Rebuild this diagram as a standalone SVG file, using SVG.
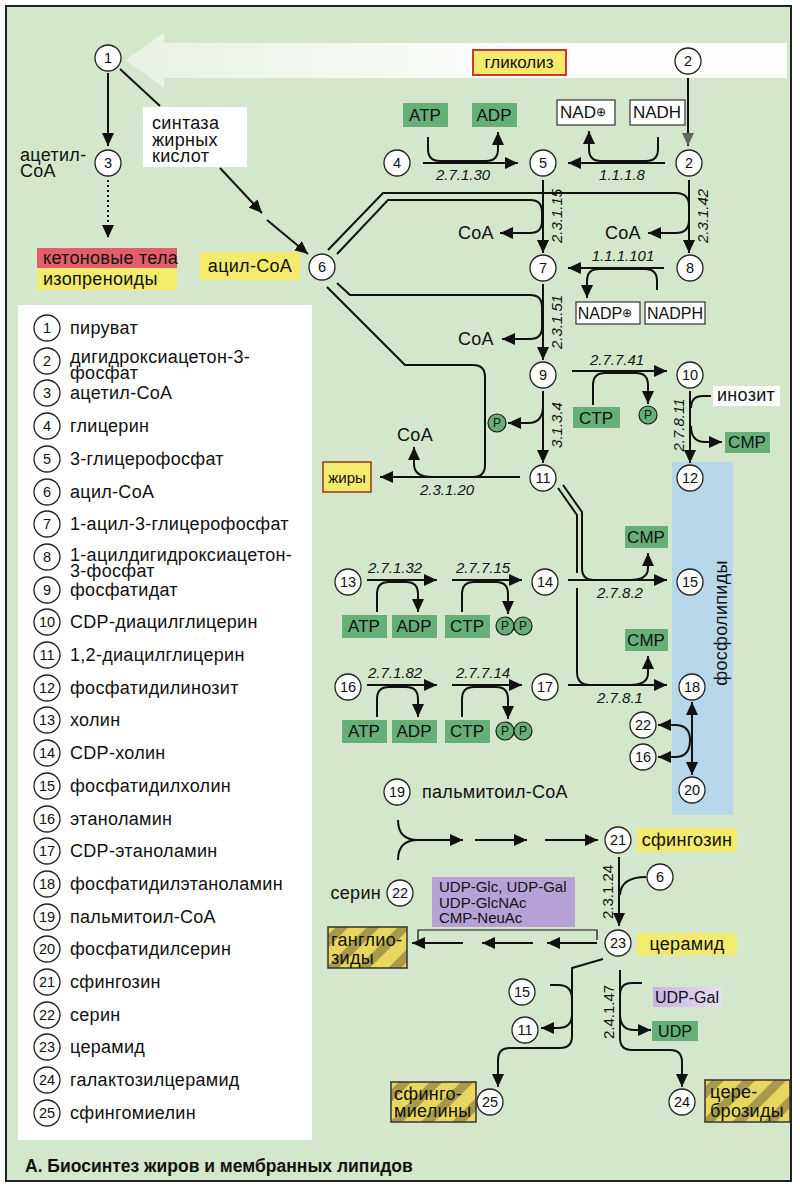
<svg xmlns="http://www.w3.org/2000/svg" width="800" height="1188" viewBox="0 0 800 1188">
<defs>
<style>
.ln{fill:none;stroke:#111;stroke-width:2}
.th{fill:none;stroke:#111;stroke-width:1.2}
.a{marker-end:url(#ah)}
.ab{marker-start:url(#ahs);marker-end:url(#ah)}
.nc{fill:#fff;stroke:#222;stroke-width:1.3}
.nt{font-family:"Liberation Sans",Arial,sans-serif;font-size:14.5px;text-anchor:middle;fill:#111}
.t{font-family:"Liberation Sans",Arial,sans-serif;font-size:18px;letter-spacing:0.3px;fill:#111}
.ec{font-family:"Liberation Sans",Arial,sans-serif;font-size:15px;font-style:italic;fill:#111}
.bx{font-family:"Liberation Sans",Arial,sans-serif;font-size:17px;fill:#111;text-anchor:middle}
.g{fill:#66b077}
.y{fill:#f4ea6c}
.wb{fill:#fff;stroke:#333;stroke-width:1.2}
.pc{fill:#66b077;stroke:#1a1a1a;stroke-width:1.2}
.pt{font-family:"Liberation Sans",Arial,sans-serif;font-size:12px;text-anchor:middle;fill:#111}
.hb{fill:url(#hatch);stroke:#333;stroke-width:1.5}
</style>
<marker id="ah" markerUnits="userSpaceOnUse" markerWidth="14" markerHeight="12" refX="13" refY="6" orient="auto"><path d="M0,0 L13,6 L0,12 z" fill="#111"/></marker>
<marker id="ahs" markerUnits="userSpaceOnUse" markerWidth="14" markerHeight="12" refX="13" refY="6" orient="auto-start-reverse"><path d="M0,0 L13,6 L0,12 z" fill="#111"/></marker>
<marker id="ahg" markerUnits="userSpaceOnUse" markerWidth="14" markerHeight="12" refX="13" refY="6" orient="auto"><path d="M0,0 L13,6 L0,12 z" fill="#666"/></marker>
<pattern id="hatch" width="22" height="22" patternUnits="userSpaceOnUse" patternTransform="rotate(45)"><rect width="22" height="22" fill="#e8d65e"/><rect x="13" width="9" height="22" fill="#a99a4b"/></pattern>
<linearGradient id="wg" x1="125" y1="0" x2="520" y2="0" gradientUnits="userSpaceOnUse"><stop offset="0" stop-color="#fff" stop-opacity="0.45"/><stop offset="1" stop-color="#fff" stop-opacity="0.95"/></linearGradient>
<linearGradient id="pg" x1="0" y1="0" x2="1" y2="0"><stop offset="0" stop-color="#c7b3e2"/><stop offset="1" stop-color="#e6def0"/></linearGradient>
</defs>

<rect width="800" height="1188" fill="#fff"/>
<rect x="6" y="6" width="785" height="1175" fill="#d4e6cb" stroke="#222" stroke-width="2"/>

<!-- background shapes -->
<polygon points="125,60 164,33 164,43 787,43 787,78 164,78 164,88" fill="url(#wg)"/>
<rect x="672" y="462" width="61" height="353" fill="#b7d7ea"/>
<text class="t" transform="translate(727,623) rotate(-90)" text-anchor="middle">фосфолипиды</text>
<rect x="18" y="305" width="294" height="835" fill="#fff"/>

<!-- legend -->
<g id="legend">
<g id="lg1"><circle class="nc" cx="47" cy="328" r="13"/><text class="nt" x="47" y="333">1</text><text class="t" x="70" y="334">пируват</text></g>
<g id="lg2"><circle class="nc" cx="47" cy="361" r="13"/><text class="nt" x="47" y="366">2</text><text class="t" x="70" y="363">дигидроксиацетон-3-</text><text class="t" x="70" y="379">фосфат</text></g>
<g id="lg3"><circle class="nc" cx="47" cy="393" r="13"/><text class="nt" x="47" y="398">3</text><text class="t" x="70" y="399">ацетил-CoA</text></g>
<g id="lg4"><circle class="nc" cx="47" cy="426" r="13"/><text class="nt" x="47" y="431">4</text><text class="t" x="70" y="432">глицерин</text></g>
<g id="lg5"><circle class="nc" cx="47" cy="459" r="13"/><text class="nt" x="47" y="464">5</text><text class="t" x="70" y="465">3-глицерофосфат</text></g>
<g id="lg6"><circle class="nc" cx="47" cy="492" r="13"/><text class="nt" x="47" y="497">6</text><text class="t" x="70" y="498">ацил-CoA</text></g>
<g id="lg7"><circle class="nc" cx="47" cy="524" r="13"/><text class="nt" x="47" y="529">7</text><text class="t" x="70" y="530">1-ацил-3-глицерофосфат</text></g>
<g id="lg8"><circle class="nc" cx="47" cy="557" r="13"/><text class="nt" x="47" y="562">8</text><text class="t" x="70" y="561">1-ацилдигидроксиацетон-</text><text class="t" x="70" y="577">3-фосфат</text></g>
<g id="lg9"><circle class="nc" cx="47" cy="590" r="13"/><text class="nt" x="47" y="595">9</text><text class="t" x="70" y="596">фосфатидат</text></g>
<g id="lg10"><circle class="nc" cx="47" cy="622" r="13"/><text class="nt" x="47" y="627">10</text><text class="t" x="70" y="628">CDP-диацилглицерин</text></g>
<g id="lg11"><circle class="nc" cx="47" cy="655" r="13"/><text class="nt" x="47" y="660">11</text><text class="t" x="70" y="661">1,2-диацилглицерин</text></g>
<g id="lg12"><circle class="nc" cx="47" cy="688" r="13"/><text class="nt" x="47" y="693">12</text><text class="t" x="70" y="694">фосфатидилинозит</text></g>
<g id="lg13"><circle class="nc" cx="47" cy="720" r="13"/><text class="nt" x="47" y="725">13</text><text class="t" x="70" y="726">холин</text></g>
<g id="lg14"><circle class="nc" cx="47" cy="753" r="13"/><text class="nt" x="47" y="758">14</text><text class="t" x="70" y="759">CDP-холин</text></g>
<g id="lg15"><circle class="nc" cx="47" cy="786" r="13"/><text class="nt" x="47" y="791">15</text><text class="t" x="70" y="792">фосфатидилхолин</text></g>
<g id="lg16"><circle class="nc" cx="47" cy="819" r="13"/><text class="nt" x="47" y="824">16</text><text class="t" x="70" y="825">этаноламин</text></g>
<g id="lg17"><circle class="nc" cx="47" cy="851" r="13"/><text class="nt" x="47" y="856">17</text><text class="t" x="70" y="857">CDP-этаноламин</text></g>
<g id="lg18"><circle class="nc" cx="47" cy="884" r="13"/><text class="nt" x="47" y="889">18</text><text class="t" x="70" y="890">фосфатидилэтаноламин</text></g>
<g id="lg19"><circle class="nc" cx="47" cy="917" r="13"/><text class="nt" x="47" y="922">19</text><text class="t" x="70" y="923">пальмитоил-CoA</text></g>
<g id="lg20"><circle class="nc" cx="47" cy="949" r="13"/><text class="nt" x="47" y="954">20</text><text class="t" x="70" y="955">фосфатидилсерин</text></g>
<g id="lg21"><circle class="nc" cx="47" cy="982" r="13"/><text class="nt" x="47" y="987">21</text><text class="t" x="70" y="988">сфингозин</text></g>
<g id="lg22"><circle class="nc" cx="47" cy="1015" r="13"/><text class="nt" x="47" y="1020">22</text><text class="t" x="70" y="1021">серин</text></g>
<g id="lg23"><circle class="nc" cx="47" cy="1047" r="13"/><text class="nt" x="47" y="1052">23</text><text class="t" x="70" y="1053">церамид</text></g>
<g id="lg24"><circle class="nc" cx="47" cy="1080" r="13"/><text class="nt" x="47" y="1085">24</text><text class="t" x="70" y="1086">галактозилцерамид</text></g>
<g id="lg25"><circle class="nc" cx="47" cy="1113" r="13"/><text class="nt" x="47" y="1118">25</text><text class="t" x="70" y="1119">сфингомиелин</text></g>
</g>

<!-- connectors -->
<g id="connectors">
<path class="ln a" d="M108,73 V146"/>
<path class="ln a" d="M108,180 V238" stroke-dasharray="2,3"/>
<path class="ln" d="M120,69 L160,106"/>
<path class="ln a" d="M220,168 L262,213"/>
<path class="ln a" d="M267,220 L308,254"/>
<path class="ln a" d="M328,250 L383,193 H676 Q689,193 689,206 V220 Q689,233 676,233 H648"/>
<path class="ln a" d="M337,254 L388,200 H530 Q542,200 542,212 V221 Q542,233 530,233 H500"/>
<path class="ln a" d="M337,283 L350,295 H530 Q542,295 542,307 V327 Q542,339 530,339 H502"/>
<path class="ln" d="M327,287 L405,365 H473 Q485,365 485,377 V465 Q485,477 473,477"/>
<path class="ln a" d="M423,163 H518"/>
<path class="ln a" d="M428,137 V149 Q428,161 440,161 H486 Q498,161 498,149 V132"/>
<path class="ln a" d="M665,163 H568"/>
<path class="ln a" d="M658,137 V149 Q658,161 646,161 H601 Q589,161 589,149 V131"/>
<path class="ln" d="M688,78 V146" stroke="#666" marker-end="url(#ahg)"/>
<path class="ln a" d="M543,180 V253"/>
<path class="ln a" d="M689,180 V253"/>
<path class="ln a" d="M664,268 H568"/>
<path class="ln a" d="M657,290 V281 Q657,269 645,269 H599 Q587,269 587,281 V298"/>
<path class="ln a" d="M543,284 V360"/>
<path class="ln a" d="M572,371 H667"/>
<path class="ln a" d="M593,405 V385 Q593,373 605,373 H636 Q648,373 648,385 V404"/>
<path class="ln a" d="M543,391 V463"/>
<path class="ln a" d="M543,406 Q543,423 528,423 H508"/>
<path class="ln a" d="M690,391 V463"/>
<path class="ln" d="M711,396 H703 Q691,396 691,408"/>
<path class="ln a" d="M691,426 Q691,442 705,442 H722"/>
<path class="ln a" d="M520,477 H380"/>
<path class="ln a" d="M432,477 Q414,477 414,464 V447"/>
<path class="ln" d="M563,485 L582,512 V568 Q582,580 594,580"/>
<path class="ln" d="M558,488 L577,515 V573 M577,588 V672 Q577,685 590,685"/>
<path class="ln a" d="M568,580 H667"/>
<path class="ln a" d="M630,580 Q648,580 648,568 V553"/>
<path class="ln a" d="M568,685 H667"/>
<path class="ln a" d="M630,685 Q648,685 648,673 V656"/>
<path class="ln a" d="M367,580 H437"/>
<path class="ln a" d="M377,612 V594 Q377,582 389,582 H406 Q418,582 418,594 V612"/>
<path class="ln a" d="M452,580 H522"/>
<path class="ln a" d="M462,612 V594 Q462,582 474,582 H496 Q508,582 508,594 V614"/>
<path class="ln a" d="M367,685 H437"/>
<path class="ln a" d="M377,717 V699 Q377,687 389,687 H406 Q418,687 418,699 V717"/>
<path class="ln a" d="M452,685 H522"/>
<path class="ln a" d="M462,717 V699 Q462,687 474,687 H496 Q508,687 508,699 V719"/>
<path class="ln ab" d="M692,702 V775"/>
<path class="ln ab" d="M658,725 H675 Q690,725 690,740 Q690,757 675,757 H658"/>
<path class="ln" d="M398,820 Q398,840 418,840 M398,860 Q398,840 418,840"/>
<path class="ln a" d="M418,840 H463"/>
<path class="ln a" d="M475,840 H527"/>
<path class="ln a" d="M545,840 H598"/>
<path class="ln a" d="M619,857 V926"/>
<path class="ln" d="M646,877 Q621,877 620,895"/>
<path class="ln a" d="M597,943 H547"/>
<path class="ln a" d="M533,943 H482"/>
<path class="ln a" d="M463,943 H412"/>
<path class="th" d="M418,940 V930 H597 V940"/>
<path class="ln a" d="M603,959 L572,968 V1036 Q572,1048 560,1048 H510 Q498,1048 498,1060 V1087"/>
<path class="ln" d="M550,985 H558 Q572,985 572,999"/>
<path class="ln a" d="M572,1014 Q572,1028 558,1028 H541"/>
<path class="ln a" d="M620,970 V1038 Q620,1050 632,1050 H670 Q682,1050 682,1062 V1087"/>
<path class="ln" d="M642,983 H632 Q620,983 620,995"/>
<path class="ln a" d="M620,1014 Q620,1030 634,1030 H651"/>
</g>

<g id="enzymes">
<text class="ec" x="463" y="180" text-anchor="middle">2.7.1.30</text>
<text class="ec" x="622" y="180" text-anchor="middle">1.1.1.8</text>
<text class="ec" transform="translate(562,216) rotate(-90)" text-anchor="middle">2.3.1.15</text>
<text class="ec" transform="translate(708,216) rotate(-90)" text-anchor="middle">2.3.1.42</text>
<text class="ec" x="623" y="261" text-anchor="middle">1.1.1.101</text>
<text class="ec" transform="translate(562,322) rotate(-90)" text-anchor="middle">2.3.1.51</text>
<text class="ec" x="617" y="365" text-anchor="middle">2.7.7.41</text>
<text class="ec" transform="translate(562,425) rotate(-90)" text-anchor="middle">3.1.3.4</text>
<text class="ec" transform="translate(684,425) rotate(-90)" text-anchor="middle">2.7.8.11</text>
<text class="ec" x="447" y="495" text-anchor="middle">2.3.1.20</text>
<text class="ec" x="395" y="573" text-anchor="middle">2.7.1.32</text>
<text class="ec" x="483" y="573" text-anchor="middle">2.7.7.15</text>
<text class="ec" x="620" y="598" text-anchor="middle">2.7.8.2</text>
<text class="ec" x="395" y="678" text-anchor="middle">2.7.1.82</text>
<text class="ec" x="483" y="678" text-anchor="middle">2.7.7.14</text>
<text class="ec" x="620" y="703" text-anchor="middle">2.7.8.1</text>
<text class="ec" style="font-style:normal" transform="translate(613,892) rotate(-90)" text-anchor="middle">2.3.1.24</text>
<text class="ec" style="font-style:normal" transform="translate(614,1012) rotate(-90)" text-anchor="middle">2.4.1.47</text>
</g>

<g id="n1"><circle class="nc" cx="108" cy="58" r="13"/><text class="nt" x="108" y="63">1</text></g>
<g id="n3"><circle class="nc" cx="108" cy="163" r="13"/><text class="nt" x="108" y="168">3</text>
<text class="t" x="20" y="161">ацетил-</text><text class="t" x="20" y="177">CoA</text></g>
<g id="ketone"><rect x="37" y="248" width="140" height="20" fill="#e35d6a"/><rect x="37" y="268" width="140" height="22" class="y"/>
<text class="t" x="43" y="264">кетоновые тела</text><text class="t" x="43" y="285">изопреноиды</text></g>
<g id="fas"><rect x="143" y="107" width="104" height="60" fill="#fff"/>
<text class="t" x="152" y="129">синтаза</text><text class="t" x="152" y="146">жирных</text><text class="t" x="152" y="162">кислот</text></g>
<g id="glyc"><rect x="473" y="50" width="93" height="25" fill="#f4ea6c" stroke="#d8322e" stroke-width="2"/><text class="bx" x="519" y="68">гликолиз</text></g>
<g id="n2top"><circle class="nc" cx="688" cy="61" r="13"/><text class="nt" x="688" y="66">2</text></g>
<g id="atp1"><rect x="403" y="103" width="45" height="24" class="g"/><text class="bx" x="425" y="121">ATP</text></g>
<g id="adp1"><rect x="472" y="103" width="45" height="24" class="g"/><text class="bx" x="494" y="121">ADP</text></g>
<g id="nad"><rect x="557" y="100" width="58" height="25" class="wb"/><text class="bx" x="583" y="118">NAD<tspan style="font-size:12px" dy="-2">⊕</tspan></text></g>
<g id="nadh"><rect x="630" y="100" width="55" height="25" class="wb"/><text class="bx" x="657" y="118">NADH</text></g>
<g id="n4"><circle class="nc" cx="397" cy="163" r="13"/><text class="nt" x="397" y="168">4</text></g>
<g id="n5"><circle class="nc" cx="543" cy="163" r="13"/><text class="nt" x="543" y="168">5</text></g>
<g id="n2"><circle class="nc" cx="689" cy="163" r="13"/><text class="nt" x="689" y="168">2</text></g>
<g id="coa1"><text class="t" x="458" y="239">CoA</text></g>
<g id="coa2"><text class="t" x="605" y="239">CoA</text></g>
<g id="acylcoa"><rect x="200" y="252" width="100" height="28" class="y"/><text class="t" x="250" y="272" text-anchor="middle">ацил-CoA</text></g>
<g id="n6"><circle class="nc" cx="322" cy="267" r="13"/><text class="nt" x="322" y="272">6</text></g>
<g id="n7"><circle class="nc" cx="543" cy="268" r="13"/><text class="nt" x="543" y="273">7</text></g>
<g id="n8"><circle class="nc" cx="690" cy="268" r="13"/><text class="nt" x="690" y="273">8</text></g>
<g id="nadp"><rect x="576" y="302" width="64" height="22" class="wb"/><text class="bx" x="605" y="319" style="font-size:16px">NADP<tspan style="font-size:12px" dy="-2">⊕</tspan></text></g>
<g id="nadph"><rect x="645" y="302" width="60" height="22" class="wb"/><text class="bx" x="675" y="319" style="font-size:16px">NADPH</text></g>
<g id="coa3"><text class="t" x="458" y="345">CoA</text></g>
<g id="n9"><circle class="nc" cx="543" cy="375" r="13"/><text class="nt" x="543" y="380">9</text></g>
<g id="n10"><circle class="nc" cx="690" cy="375" r="13"/><text class="nt" x="690" y="380">10</text></g>
<g id="ctp0"><rect x="573" y="407" width="47" height="21" class="g"/><text class="bx" x="596" y="424">CTP</text></g>
<g id="p1"><circle class="pc" cx="648" cy="415" r="9"/><text class="pt" x="648" y="419">P</text></g>
<g id="p2"><circle class="pc" cx="497" cy="423" r="9"/><text class="pt" x="497" y="427">P</text></g>
<g id="inosit"><rect x="713" y="386" width="67" height="20" fill="#fff"/><text class="t" x="717" y="401">инозит</text></g>
<g id="cmp0"><rect x="725" y="432" width="45" height="21" class="g"/><text class="bx" x="747" y="448">CMP</text></g>
<g id="coa4"><text class="t" x="415" y="441" text-anchor="middle">CoA</text></g>
<g id="fats"><rect x="323" y="462" width="48" height="30" fill="#f4ea6c" stroke="#8a3a1a" stroke-width="1.5"/><text class="bx" x="347" y="483" style="font-size:15px">жиры</text></g>
<g id="n11"><circle class="nc" cx="543" cy="478" r="13"/><text class="nt" x="543" y="483">11</text></g>
<g id="n12"><circle class="nc" cx="690" cy="478" r="13"/><text class="nt" x="690" y="483">12</text></g>
<g id="cmp1"><rect x="625" y="526" width="43" height="22" class="g"/><text class="bx" x="646" y="543">CMP</text></g>
<g id="cmp2"><rect x="625" y="629" width="43" height="22" class="g"/><text class="bx" x="646" y="646">CMP</text></g>
<g id="n13"><circle class="nc" cx="348" cy="582" r="13"/><text class="nt" x="348" y="587">13</text></g>
<g id="n14"><circle class="nc" cx="545" cy="582" r="13"/><text class="nt" x="545" y="587">14</text></g>
<g id="n15"><circle class="nc" cx="690" cy="582" r="13"/><text class="nt" x="690" y="587">15</text></g>
<g id="atp2"><rect x="342" y="615" width="45" height="23" class="g"/><text class="bx" x="364" y="632">ATP</text></g>
<g id="adp2"><rect x="392" y="615" width="45" height="23" class="g"/><text class="bx" x="414" y="632">ADP</text></g>
<g id="ctp2"><rect x="445" y="615" width="45" height="23" class="g"/><text class="bx" x="467" y="632">CTP</text></g>
<g id="pp2"><circle class="pc" cx="505" cy="626" r="9"/><text class="pt" x="505" y="630">P</text><circle class="pc" cx="523" cy="626" r="9"/><text class="pt" x="523" y="630">P</text></g>
<g id="n16"><circle class="nc" cx="348" cy="687" r="13"/><text class="nt" x="348" y="692">16</text></g>
<g id="n17"><circle class="nc" cx="545" cy="687" r="13"/><text class="nt" x="545" y="692">17</text></g>
<g id="n18"><circle class="nc" cx="692" cy="687" r="13"/><text class="nt" x="692" y="692">18</text></g>
<g id="atp3"><rect x="342" y="720" width="45" height="23" class="g"/><text class="bx" x="364" y="737">ATP</text></g>
<g id="adp3"><rect x="392" y="720" width="45" height="23" class="g"/><text class="bx" x="414" y="737">ADP</text></g>
<g id="ctp3"><rect x="445" y="720" width="45" height="23" class="g"/><text class="bx" x="467" y="737">CTP</text></g>
<g id="pp3"><circle class="pc" cx="505" cy="731" r="9"/><text class="pt" x="505" y="735">P</text><circle class="pc" cx="523" cy="731" r="9"/><text class="pt" x="523" y="735">P</text></g>
<g id="n22a"><circle class="nc" cx="643" cy="725" r="13"/><text class="nt" x="643" y="730">22</text></g>
<g id="n16a"><circle class="nc" cx="643" cy="757" r="13"/><text class="nt" x="643" y="762">16</text></g>
<g id="n20"><circle class="nc" cx="692" cy="790" r="13"/><text class="nt" x="692" y="795">20</text></g>
<g id="n19"><circle class="nc" cx="397" cy="792" r="13"/><text class="nt" x="397" y="797">19</text><text class="t" x="422" y="798">пальмитоил-CoA</text></g>
<g id="n21"><circle class="nc" cx="618" cy="840" r="13"/><text class="nt" x="618" y="845">21</text></g>
<g id="sph"><rect x="637" y="828" width="100" height="24" class="y"/><text class="t" x="687" y="846" text-anchor="middle">сфингозин</text></g>
<g id="n6b"><circle class="nc" cx="660" cy="877" r="13"/><text class="nt" x="660" y="882">6</text></g>
<g id="n22"><circle class="nc" cx="400" cy="893" r="13"/><text class="nt" x="400" y="898">22</text><text class="t" x="381" y="899" text-anchor="end">серин</text></g>
<g id="sugars"><rect x="432" y="877" width="143" height="50" fill="#b7a2d8"/>
<text class="t" style="font-size:15px;letter-spacing:0" x="439" y="892">UDP-Glc, UDP-Gal</text><text class="t" style="font-size:15px;letter-spacing:0" x="439" y="908">UDP-GlcNAc</text><text class="t" style="font-size:15px;letter-spacing:0" x="439" y="923">CMP-NeuAc</text></g>
<g id="gang"><rect x="328" y="927" width="79" height="41" class="hb"/><text class="t" x="331" y="946">ганглио-</text><text class="t" x="331" y="964">зиды</text></g>
<g id="n23"><circle class="nc" cx="618" cy="943" r="13"/><text class="nt" x="618" y="948">23</text></g>
<g id="cer"><rect x="637" y="933" width="100" height="22" class="y"/><text class="t" x="687" y="950" text-anchor="middle">церамид</text></g>
<g id="n15b"><circle class="nc" cx="522" cy="992" r="13"/><text class="nt" x="522" y="997">15</text></g>
<g id="n11b"><circle class="nc" cx="525" cy="1030" r="13"/><text class="nt" x="525" y="1035">11</text></g>
<g id="udpgal"><rect x="653" y="987" width="69" height="20" fill="url(#pg)"/><text class="bx" x="687" y="1003" style="font-size:16px">UDP-Gal</text></g>
<g id="udp"><rect x="652" y="1021" width="46" height="20" class="g"/><text class="bx" x="675" y="1037" style="font-size:16px">UDP</text></g>
<g id="n25"><circle class="nc" cx="490" cy="1102" r="13"/><text class="nt" x="490" y="1107">25</text></g>
<g id="sphm"><rect x="391" y="1082" width="85" height="40" class="hb"/><text class="t" x="394" y="1100">сфинго-</text><text class="t" x="394" y="1117">миелины</text></g>
<g id="n24"><circle class="nc" cx="682" cy="1102" r="13"/><text class="nt" x="682" y="1107">24</text></g>
<g id="cereb"><rect x="705" y="1080" width="85" height="42" class="hb"/><text class="t" x="710" y="1098">цере-</text><text class="t" x="710" y="1117">брозиды</text></g>

<text class="t" x="25" y="1172" style="font-weight:bold;font-size:17.5px;letter-spacing:0">А. Биосинтез жиров и мембранных липидов</text>
</svg>
